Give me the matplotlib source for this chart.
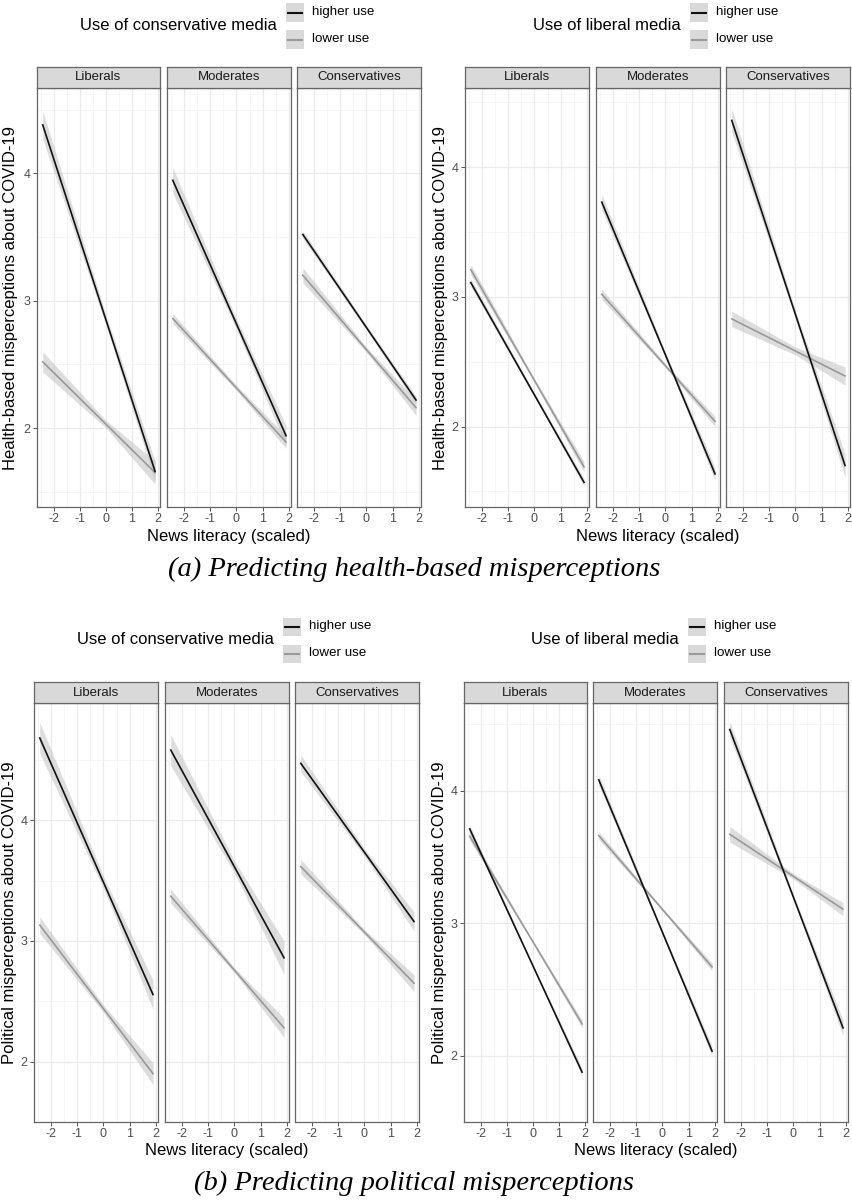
import matplotlib.pyplot as plt
import numpy as np
from matplotlib.patches import Rectangle
from matplotlib.lines import Line2D

W, H = 853, 1200
plt.rcParams['font.family'] = ['Liberation Sans', 'DejaVu Sans']
plt.rcParams['axes.unicode_minus'] = False

facets = ['Liberals', 'Moderates', 'Conservatives']
x_range = [-2.43, 1.89]          # range of news literacy (scaled)
x_ci = [-2.43, 0.0, 1.89]        # where the CI half widths are read
x_ticks = [-2, -1, 0, 1, 2]

# ---- (a) health-based, conservative media ----
a_cons_high_start = [4.38, 3.945, 3.52]
a_cons_high_end = [1.66, 1.94, 2.22]
a_cons_low_start = [2.52, 2.86, 3.20]
a_cons_low_end = [1.65, 1.89, 2.16]
a_cons_high_ci = [[0.11, 0.04, 0.08], [0.10, 0.04, 0.08], [0.03, 0.02, 0.03]]
a_cons_low_ci = [[0.08, 0.03, 0.09], [0.04, 0.02, 0.05], [0.06, 0.02, 0.06]]

# ---- (a) health-based, liberal media ----
a_lib_high_start = [3.11, 3.73, 4.36]
a_lib_high_end = [1.57, 1.635, 1.70]
a_lib_low_start = [3.21, 3.02, 2.83]
a_lib_low_end = [1.69, 2.04, 2.39]
a_lib_high_ci = [[0.03, 0.015, 0.03], [0.06, 0.02, 0.05], [0.09, 0.03, 0.09]]
a_lib_low_ci = [[0.04, 0.015, 0.04], [0.04, 0.015, 0.04], [0.06, 0.03, 0.07]]

# ---- (b) political, conservative media ----
b_cons_high_start = [4.68, 4.58, 4.47]
b_cons_high_end = [2.555, 2.86, 3.16]
b_cons_low_start = [3.13, 3.37, 3.615]
b_cons_low_end = [1.90, 2.28, 2.65]
b_cons_high_ci = [[0.13, 0.05, 0.12], [0.13, 0.05, 0.14], [0.07, 0.03, 0.08]]
b_cons_low_ci = [[0.07, 0.03, 0.09], [0.06, 0.02, 0.08], [0.06, 0.02, 0.07]]

# ---- (b) political, liberal media ----
b_lib_high_start = [3.71, 4.08, 4.46]
b_lib_high_end = [1.876, 2.035, 2.21]
b_lib_low_start = [3.655, 3.66, 3.67]
b_lib_low_end = [2.24, 2.67, 3.105]
b_lib_high_ci = [[0.03, 0.01, 0.03], [0.04, 0.015, 0.04], [0.06, 0.02, 0.06]]
b_lib_low_ci = [[0.03, 0.01, 0.03], [0.03, 0.01, 0.03], [0.06, 0.02, 0.05]]

HIGH_COL = '#111111'
LOW_COL = '#999999'
RIB_COL = '#bdbdbd'

fig = plt.figure(figsize=(W / 100, H / 100), dpi=100)


def px_axes(left, top, right, bottom):
    return fig.add_axes([left / W, 1 - bottom / H, (right - left) / W, (bottom - top) / H])


def draw_series(ax, start, end, ci, color):
    y_ci = np.interp(x_ci, x_range, [start, end])
    ax.fill_between(x_ci, y_ci - np.array(ci), y_ci + np.array(ci),
                    color=RIB_COL, alpha=0.5, lw=0, zorder=2)
    ax.plot(x_range, [start, end], color=color, lw=1.2, zorder=3)


def draw_legend(title, key_left, yc):
    fig.text((key_left - 9) / W, 1 - yc / H, title, ha='right', va='center', fontsize=12)
    for k, (lab, col) in enumerate([('higher use', HIGH_COL), ('lower use', LOW_COL)]):
        ky = yc - 13.5 + 27 * k
        fig.add_artist(Rectangle(((key_left) / W, 1 - (ky + 9) / H), 18 / W, 18 / H,
                                 transform=fig.transFigure, facecolor='#d9d9d9', edgecolor='none'))
        fig.add_artist(Line2D([(key_left + 2) / W, (key_left + 16) / W], [1 - ky / H, 1 - ky / H],
                              transform=fig.transFigure, color=col, lw=1.5))
        fig.text((key_left + 26) / W, 1 - ky / H, lab, ha='left', va='center', fontsize=9.6)


def draw_group(panel_x, strip_top, top, bottom, ylim, high_s, high_e, low_s, low_e,
               high_ci, low_ci, ylabel, ylabel_x, legend_title, key_left, legend_y):
    for i, (l, r) in enumerate(panel_x):
        ax = px_axes(l, top, r, bottom)
        ax.set_xlim(-2.65, 2.08)
        ax.set_ylim(*ylim)
        ax.set_xticks(x_ticks)
        ax.set_xticks([-2.5, -1.5, -0.5, 0.5, 1.5], minor=True)
        ax.set_yticks([2, 3, 4])
        ax.set_yticks([1.5, 2.5, 3.5, 4.5], minor=True)
        ax.grid(True, which='major', color='#ebebeb', lw=0.9, zorder=0)
        ax.grid(True, which='minor', color='#f3f3f3', lw=0.5, zorder=0)
        ax.set_axisbelow(True)
        ax.tick_params(which='minor', length=0)
        ax.tick_params(which='major', length=3, width=0.7, color='#555555',
                       labelsize=9, labelcolor='#4d4d4d', pad=1.5)
        if i > 0:
            ax.tick_params(axis='y', which='major', length=0, labelleft=False)
        for s in ax.spines.values():
            s.set_color('#666666')
            s.set_linewidth(0.9)
        draw_series(ax, low_s[i], low_e[i], low_ci[i], LOW_COL)
        draw_series(ax, high_s[i], high_e[i], high_ci[i], HIGH_COL)

        sx = px_axes(l, strip_top, r, top)
        sx.set_facecolor('#d9d9d9')
        sx.set_xticks([])
        sx.set_yticks([])
        for s in sx.spines.values():
            s.set_color('#666666')
            s.set_linewidth(0.9)
        sx.text(0.5, 0.5, facets[i], ha='center', va='center', fontsize=9.5, color='#1a1a1a',
                transform=sx.transAxes)

    cx = (panel_x[0][0] + panel_x[-1][1]) / 2
    fig.text(cx / W, 1 - (bottom + 29) / H, 'News literacy (scaled)', ha='center', va='center',
             fontsize=12)
    fig.text(ylabel_x / W, 1 - ((top + bottom) / 2) / H, ylabel, ha='center', va='center',
             rotation=90, fontsize=12)
    draw_legend(legend_title, key_left, legend_y)


health_lab = 'Health-based misperceptions about COVID-19'
polit_lab = 'Political misperceptions about COVID-19'

draw_group([(37, 160), (167, 291), (297, 421)], 67, 88, 507, (1.38, 4.67),
           a_cons_high_start, a_cons_high_end, a_cons_low_start, a_cons_low_end,
           a_cons_high_ci, a_cons_low_ci, health_lab, 11, 'Use of conservative media', 286, 26)
draw_group([(465, 589), (596, 720), (726, 850)], 67, 88, 507, (1.38, 4.61),
           a_lib_high_start, a_lib_high_end, a_lib_low_start, a_lib_low_end,
           a_lib_high_ci, a_lib_low_ci, health_lab, 441, 'Use of liberal media', 690, 26)
draw_group([(34, 158), (165, 289), (295, 419)], 682, 703, 1122, (1.68, 4.97),
           b_cons_high_start, b_cons_high_end, b_cons_low_start, b_cons_low_end,
           b_cons_high_ci, b_cons_low_ci, polit_lab, 10, 'Use of conservative media', 283, 640)
draw_group([(464, 587), (593, 717), (724, 848)], 682, 703, 1122, (1.71, 4.66),
           b_lib_high_start, b_lib_high_end, b_lib_low_start, b_lib_low_end,
           b_lib_high_ci, b_lib_low_ci, polit_lab, 440, 'Use of liberal media', 688, 640)

cap_font = dict(family=['Liberation Serif', 'DejaVu Serif'], style='italic', fontsize=20.5)
fig.text(414 / W, 1 - 569 / H, '(a) Predicting health-based misperceptions', ha='center',
         va='center', **cap_font)
fig.text(414 / W, 1 - 1183 / H, '(b) Predicting political misperceptions', ha='center',
         va='center', **cap_font)

fig.savefig('out.png', dpi=100, facecolor='white')
